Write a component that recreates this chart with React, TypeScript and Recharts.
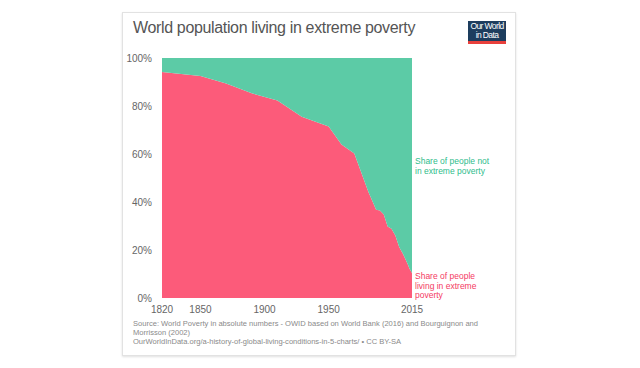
import React from "react";
import { AreaChart, Area, XAxis, YAxis } from "recharts";

const years = [1820, 1850, 1870, 1890, 1910, 1929, 1950, 1960, 1970, 1981, 1984, 1987, 1990, 1993, 1996, 1999, 2002, 2005, 2008, 2010, 2012, 2013, 2015];
const poverty = [94.2, 92.5, 89.4, 85.3, 82.3, 75.5, 71.5, 64.0, 60.2, 44.2, 40.5, 36.8, 36.5, 34.8, 29.8, 28.9, 26.0, 21.3, 18.3, 16.0, 13.6, 12.3, 10.4];
const notPoverty = [5.8, 7.5, 10.6, 14.7, 17.7, 24.5, 28.5, 36.0, 39.8, 55.8, 59.5, 63.2, 63.5, 65.2, 70.2, 71.1, 74.0, 78.7, 81.7, 84.0, 86.4, 87.7, 89.6];
const xTicks = [1820, 1850, 1900, 1950, 2015];
const yTicks = [0, 20, 40, 60, 80, 100];

const data = years.map((y, i) => ({ year: y, poverty: poverty[i], notPoverty: notPoverty[i] }));

const RED = "#fc5b7a";
const GREEN = "#5ccba6";
const FONT = "'Liberation Sans', Arial, sans-serif";

export default function App() {
  return (
    <div style={{ position: "fixed", left: 0, top: 0, width: 640, height: 368, background: "#fff", fontFamily: FONT }}>
      <div style={{ position: "absolute", left: 122, top: 12, width: 394, height: 344, border: "1px solid #e2e2e2", boxShadow: "0 1px 2px rgba(0,0,0,0.12)", boxSizing: "border-box" }} />
      <div style={{ position: "absolute", left: 133, top: 19, fontSize: 16, color: "#555", whiteSpace: "nowrap", fontWeight: 300, letterSpacing: -0.35 }}>
        World population living in extreme poverty
      </div>
      <div style={{ position: "absolute", left: 468, top: 21, width: 38, height: 23, background: "#1d3d5e", borderBottom: "3px solid #e8403c", boxSizing: "border-box", color: "#fff", fontSize: 8.5, lineHeight: "9px", textAlign: "center", paddingTop: 1, letterSpacing: -0.6, whiteSpace: "nowrap" }}>
        Our World<br />in Data
      </div>
      <div style={{ position: "absolute", left: 0, top: 0 }}>
        <AreaChart width={640} height={368} data={data} margin={{ top: 58, left: 122, right: 228, bottom: 50 }}>
          <XAxis dataKey="year" type="number" domain={[1820, 2015]} ticks={xTicks} axisLine={false} tickLine={false} height={20} tickMargin={2} tick={{ fontSize: 10, fill: "#666", fontFamily: FONT }} interval={0} />
          <YAxis type="number" domain={[0, 100]} ticks={yTicks} axisLine={false} tickLine={false} width={40} tickMargin={4} tickFormatter={(v) => `${v}%`} tick={{ fontSize: 10, fill: "#666", fontFamily: FONT }} />
          <Area type="linear" dataKey="poverty" stackId="a" stroke="none" fill={RED} fillOpacity={1} isAnimationActive={false} />
          <Area type="linear" dataKey="notPoverty" stackId="a" stroke="none" fill={GREEN} fillOpacity={1} isAnimationActive={false} />
        </AreaChart>
      </div>
      <div style={{ position: "absolute", left: 415, top: 156, fontSize: 8.5, lineHeight: "10px", color: "#2ebd8c" }}>
        Share of people not<br />in extreme poverty
      </div>
      <div style={{ position: "absolute", left: 415, top: 272, fontSize: 8.5, lineHeight: "9.7px", color: "#f43a63" }}>
        Share of people<br />living in extreme<br />poverty
      </div>
      <div style={{ position: "absolute", left: 133, top: 319, fontSize: 7.55, lineHeight: "9px", color: "#8a8a8a", width: 350 }}>
        Source: World Poverty in absolute numbers - OWID based on World Bank (2016) and Bourguignon and Morrisson (2002)<br />
        OurWorldInData.org/a-history-of-global-living-conditions-in-5-charts/ • CC BY-SA
      </div>
    </div>
  );
}
